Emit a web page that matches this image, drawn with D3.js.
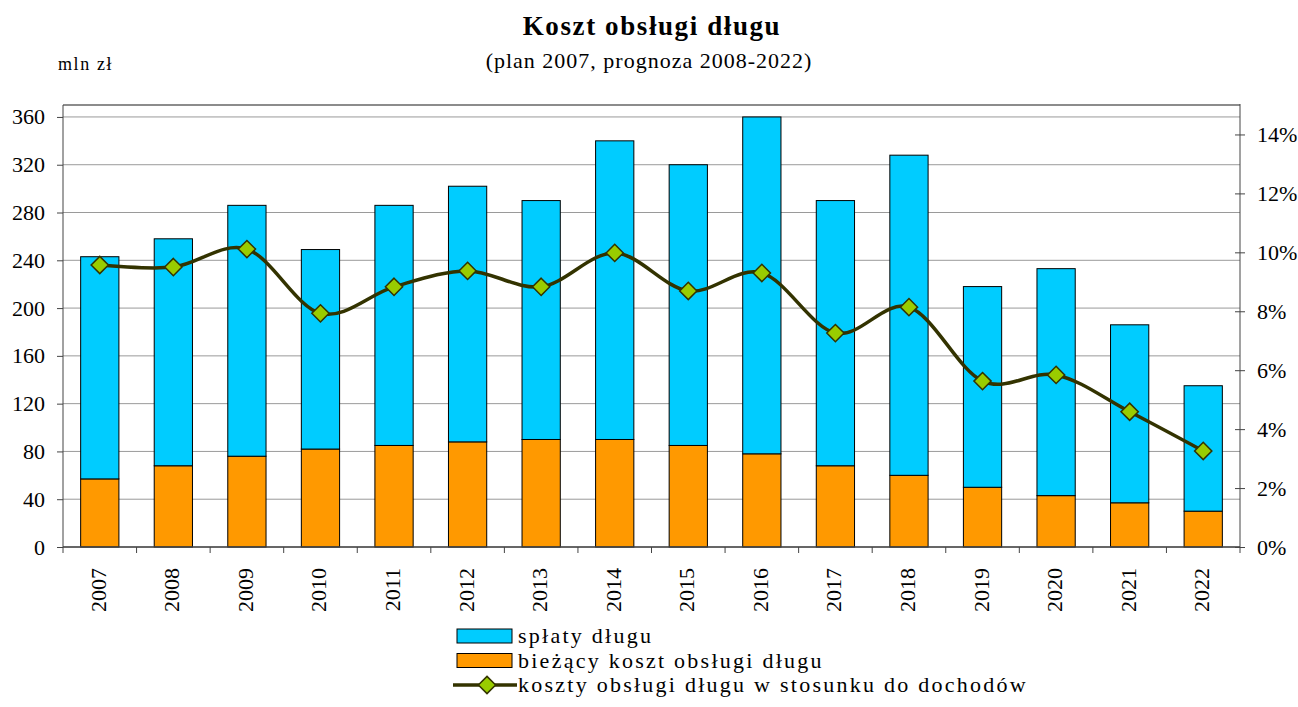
<!DOCTYPE html>
<html>
<head>
<meta charset="utf-8">
<script src="https://cdn.jsdelivr.net/npm/d3@7"></script>
<style>
  body { margin: 0; background: #fff; }
</style>
</head>
<body>
<svg id="chart" width="1298" height="707"></svg>
<script>
// data
const years = ["2007","2008","2009","2010","2011","2012","2013","2014","2015","2016","2017","2018","2019","2020","2021","2022"];
// biezacy koszt obslugi dlugu (mln zl)
const biezacy = [57, 68, 76, 82, 85, 88, 90, 90, 85, 78, 68, 60, 50, 43, 37, 30];
// splaty dlugu (mln zl), stacked on top
const splaty = [186, 190, 210, 167, 201, 214, 200, 250, 235, 282, 222, 268, 168, 190, 149, 105];
// koszty obslugi dlugu w stosunku do dochodow (%)
const udzial = [9.57, 9.5, 10.11, 7.93, 8.83, 9.37, 8.83, 9.98, 8.69, 9.3, 7.26, 8.14, 5.63, 5.84, 4.59, 3.26];
const leftTicks = [0, 40, 80, 120, 160, 200, 240, 280, 320, 360];
const rightTicks = [0, 2, 4, 6, 8, 10, 12, 14];

const FONT = "'Liberation Serif', 'Times New Roman', serif";

const svg = d3.select("svg#chart").style("font-family", FONT);
const margin = { top: 105, right: 58, bottom: 160, left: 63 };
const width = 1298, height = 707;
const innerWidth = width - margin.left - margin.right;
const innerHeight = height - margin.top - margin.bottom;

const g = svg.append("g").attr("transform", `translate(${margin.left},${margin.top})`);

const x = d3.scaleBand().domain(years).range([0, innerWidth]).paddingInner(0.48).paddingOuter(0.24);
const step = x.step();
const y = d3.scaleLinear().domain([0, 370]).range([innerHeight, 0]);
const y2 = d3.scaleLinear().domain([0, 15]).range([innerHeight, 0]);

// gridlines
g.append("g").selectAll("line")
  .data(leftTicks)
  .join("line")
  .attr("x1", 0).attr("x2", innerWidth)
  .attr("y1", d => y(d)).attr("y2", d => y(d))
  .attr("stroke", "#9a9a9a").attr("stroke-width", 1);

// top border of the plot area
g.append("line")
  .attr("x1", 0).attr("x2", innerWidth).attr("y1", 0).attr("y2", 0)
  .attr("stroke", "#8c8c8c").attr("stroke-width", 2);

// stacked bars
const bars = g.append("g");
bars.selectAll("rect.biez")
  .data(years)
  .join("rect")
  .attr("class", "biez")
  .attr("x", d => x(d))
  .attr("width", x.bandwidth())
  .attr("y", (d, i) => y(biezacy[i]))
  .attr("height", (d, i) => y(0) - y(biezacy[i]))
  .attr("fill", "#ff9900").attr("stroke", "#000").attr("stroke-width", 1);

bars.selectAll("rect.splaty")
  .data(years)
  .join("rect")
  .attr("class", "splaty")
  .attr("x", d => x(d))
  .attr("width", x.bandwidth())
  .attr("y", (d, i) => y(biezacy[i] + splaty[i]))
  .attr("height", (d, i) => y(biezacy[i]) - y(biezacy[i] + splaty[i]))
  .attr("fill", "#00ccff").attr("stroke", "#000").attr("stroke-width", 1);

// left axis
const yAxis = g.append("g")
  .call(d3.axisLeft(y).tickValues(leftTicks).tickSize(6).tickPadding(12));
yAxis.attr("font-family", FONT).attr("font-size", 22);
yAxis.selectAll("text").attr("fill", "#000");
yAxis.select(".domain").attr("stroke", "#444").attr("d", `M0,0V${innerHeight}`);
yAxis.selectAll(".tick line").attr("stroke", "#444");

// right axis, ticks cross the line
const y2Axis = g.append("g")
  .attr("transform", `translate(${innerWidth},0)`)
  .call(d3.axisRight(y2).tickValues(rightTicks).tickFormat(d => d + "%").tickSize(0).tickPadding(17));
y2Axis.attr("font-family", FONT).attr("font-size", 22);
y2Axis.selectAll("text").attr("fill", "#000");
y2Axis.select(".domain").attr("stroke", "#444").attr("d", `M0,-1V${innerHeight}`);
y2Axis.selectAll(".tick").append("line").attr("x1", -5).attr("x2", 5).attr("stroke", "#444");

// bottom axis with ticks at band boundaries
const xAxis = g.append("g").attr("transform", `translate(0,${innerHeight})`);
xAxis.append("line").attr("x1", 0).attr("x2", innerWidth).attr("stroke", "#444").attr("stroke-width", 1.5);
xAxis.selectAll("line.tk")
  .data(d3.range(years.length + 1))
  .join("line")
  .attr("class", "tk")
  .attr("x1", i => i * step).attr("x2", i => i * step)
  .attr("y1", 0).attr("y2", 6)
  .attr("stroke", "#444");
xAxis.selectAll("text")
  .data(years)
  .join("text")
  .attr("transform", d => `translate(${x(d) + x.bandwidth() / 2 + 6},21) rotate(-90)`)
  .attr("text-anchor", "end")
  .attr("font-size", 22)
  .text(d => d);

// smoothed line on the right scale
const xc = (d, i) => x(years[i]) + x.bandwidth() / 2;
const line = d3.line()
  .x((d, i) => xc(d, i))
  .y(d => y2(d))
  .curve(d3.curveCatmullRom.alpha(0));
g.append("path")
  .datum(udzial)
  .attr("d", line)
  .attr("fill", "none")
  .attr("stroke", "#333300")
  .attr("stroke-width", 3.5);

const diamond = d3.symbol().type(d3.symbolDiamond2).size(190);
g.selectAll("path.marker")
  .data(udzial)
  .join("path")
  .attr("class", "marker")
  .attr("transform", (d, i) => `translate(${xc(d, i)},${y2(d)})`)
  .attr("d", diamond)
  .attr("fill", "#99cc00")
  .attr("stroke", "#333300")
  .attr("stroke-width", 1.5);

// titles
svg.append("text")
  .attr("x", 652).attr("y", 35)
  .attr("text-anchor", "middle")
  .attr("font-size", 27).attr("font-weight", "bold")
  .attr("letter-spacing", 1.6)
  .text("Koszt obsługi długu");
svg.append("text")
  .attr("x", 649).attr("y", 68)
  .attr("text-anchor", "middle")
  .attr("font-size", 22)
  .attr("letter-spacing", 1)
  .text("(plan 2007, prognoza 2008-2022)");
svg.append("text")
  .attr("x", 58).attr("y", 70)
  .attr("font-size", 18)
  .attr("letter-spacing", 1.6)
  .text("mln zł");

// legend
const legend = svg.append("g").attr("transform", "translate(457,622)");
const legendItems = [
  { label: "spłaty długu", type: "rect", color: "#00ccff" },
  { label: "bieżący koszt obsługi długu", type: "rect", color: "#ff9900" },
  { label: "koszty obsługi długu w stosunku do dochodów", type: "line" }
];
legendItems.forEach((item, i) => {
  const row = legend.append("g").attr("transform", `translate(0,${i * 24.5})`);
  if (item.type === "rect") {
    row.append("rect")
      .attr("x", 0).attr("y", 7).attr("width", 55).attr("height", 14)
      .attr("fill", item.color).attr("stroke", "#000");
  } else {
    row.append("line").attr("x1", -4).attr("x2", 60).attr("y1", 14).attr("y2", 14)
      .attr("stroke", "#333300").attr("stroke-width", 3.5);
    row.append("path").attr("transform", "translate(30,14)").attr("d", diamond)
      .attr("fill", "#99cc00").attr("stroke", "#333300").attr("stroke-width", 1.5);
  }
  row.append("text")
    .attr("x", 61).attr("y", 21)
    .attr("font-size", 22)
    .attr("letter-spacing", 2.25)
    .text(item.label);
});
</script>
</body>
</html>
